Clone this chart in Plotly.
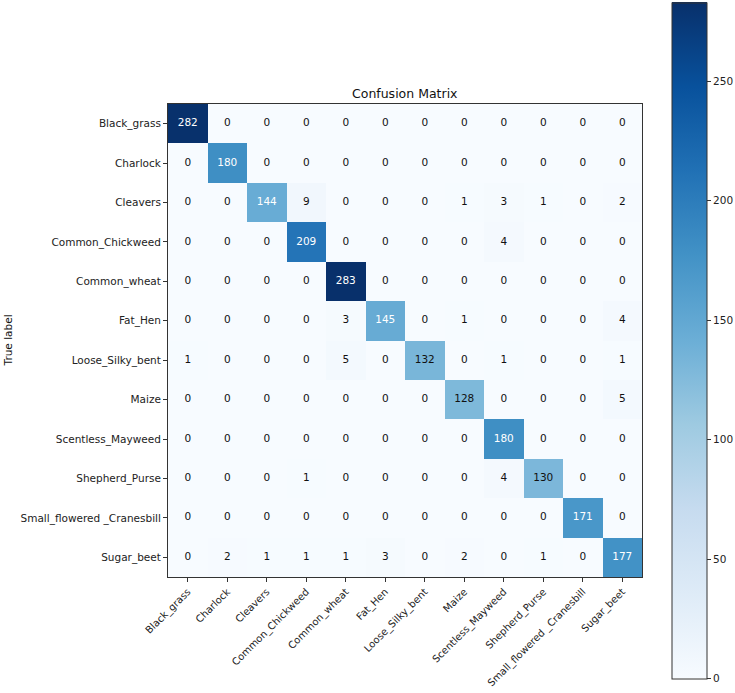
import plotly.graph_objects as go

classes = ["Black_grass", "Charlock", "Cleavers", "Common_Chickweed", "Common_wheat",
           "Fat_Hen", "Loose_Silky_bent", "Maize", "Scentless_Mayweed", "Shepherd_Purse",
           "Small_flowered _Cranesbill", "Sugar_beet"]

row_black_grass = [282, 0, 0, 0, 0, 0, 0, 0, 0, 0, 0, 0]
row_charlock = [0, 180, 0, 0, 0, 0, 0, 0, 0, 0, 0, 0]
row_cleavers = [0, 0, 144, 9, 0, 0, 0, 1, 3, 1, 0, 2]
row_chickweed = [0, 0, 0, 209, 0, 0, 0, 0, 4, 0, 0, 0]
row_wheat = [0, 0, 0, 0, 283, 0, 0, 0, 0, 0, 0, 0]
row_fat_hen = [0, 0, 0, 0, 3, 145, 0, 1, 0, 0, 0, 4]
row_loose = [1, 0, 0, 0, 5, 0, 132, 0, 1, 0, 0, 1]
row_maize = [0, 0, 0, 0, 0, 0, 0, 128, 0, 0, 0, 5]
row_mayweed = [0, 0, 0, 0, 0, 0, 0, 0, 180, 0, 0, 0]
row_shepherd = [0, 0, 0, 1, 0, 0, 0, 0, 4, 130, 0, 0]
row_cranesbill = [0, 0, 0, 0, 0, 0, 0, 0, 0, 0, 171, 0]
row_sugar_beet = [0, 2, 1, 1, 1, 3, 0, 2, 0, 1, 0, 177]

matrix = [row_black_grass, row_charlock, row_cleavers, row_chickweed, row_wheat,
          row_fat_hen, row_loose, row_maize, row_mayweed, row_shepherd,
          row_cranesbill, row_sugar_beet]

colorbar_ticks = [0, 50, 100, 150, 200, 250]

blues = ['#f7fbff', '#deebf7', '#c6dbef', '#9ecae1', '#6baed6',
         '#4292c6', '#2171b5', '#08519c', '#08306b']
colorscale = [[i / (len(blues) - 1), c] for i, c in enumerate(blues)]

vmax = max(max(r) for r in matrix)
thresh = vmax / 2.0

FONT = "DejaVu Sans"

fig = go.Figure()
fig.add_trace(go.Heatmap(
    z=matrix, x=classes, y=classes,
    colorscale=colorscale, zmin=0, zmax=vmax,
    colorbar=dict(
        x=1.063, xanchor="left", xref="paper",
        y=0.5, yanchor="middle",
        lenmode="pixels", len=676,
        thickness=35, thicknessmode="pixels",
        xpad=0, ypad=0,
        outlinewidth=1, outlinecolor="#333333",
        tickvals=colorbar_ticks, ticks="outside", ticklen=4, tickwidth=1,
        tickcolor="#333333",
        tickfont=dict(family=FONT, size=10.5, color="#222222"),
    ),
    hoverinfo="skip",
))

tx, ty, tt, tc = [], [], [], []
for i, r in enumerate(matrix):
    for j, v in enumerate(r):
        tx.append(classes[j])
        ty.append(classes[i])
        tt.append(str(v))
        tc.append("white" if v > thresh else "#111111")

fig.add_trace(go.Scatter(
    x=tx, y=ty, text=tt, mode="text",
    textfont=dict(family=FONT, size=10.5, color=tc),
    textposition="middle center", hoverinfo="skip", showlegend=False,
))

axis_common = dict(
    showgrid=False, zeroline=False, showline=True, linecolor="#333333",
    linewidth=1, mirror=True, ticks="outside", ticklen=4, tickcolor="#333333",
    automargin=False,
)

fig.update_layout(
    width=735, height=693,
    margin=dict(l=168, r=93, t=104, b=116, autoexpand=False),
    paper_bgcolor="white", plot_bgcolor="white",
    xaxis=dict(**axis_common, tickangle=-45, range=[-0.5, 11.5],
               tickfont=dict(family=FONT, size=10, color="#222222"),
               categoryorder="array", categoryarray=classes),
    yaxis=dict(**axis_common, range=[11.5, -0.5],
               tickfont=dict(family=FONT, size=10.5, color="#222222"),
               categoryorder="array", categoryarray=classes),
    showlegend=False,
    annotations=[
        dict(text="Confusion Matrix", x=0.5, y=1, xref="paper", yref="paper",
             xanchor="center", yanchor="bottom", yshift=1, showarrow=False,
             font=dict(family=FONT, size=12.5, color="#111111")),
        dict(text="True label", x=-0.3376, y=0.5, xref="paper", yref="paper",
             xanchor="center", yanchor="middle", textangle=-90, showarrow=False,
             font=dict(family=FONT, size=10.5, color="#111111")),
    ],
)

fig.write_html("out.html", config={"displayModeBar": False},
               post_script="document.body.style.margin='0';")
